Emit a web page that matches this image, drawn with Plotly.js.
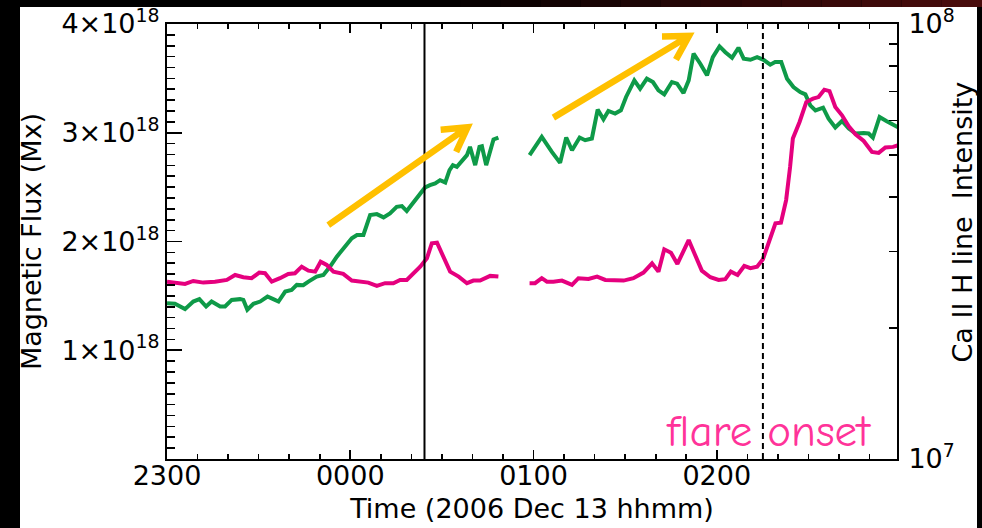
<!DOCTYPE html>
<html>
<head>
<meta charset="utf-8">
<script src="https://cdn.plot.ly/plotly-3.0.1.min.js"></script>
<style>html,body{margin:0;padding:0;background:#000;}</style>
</head>
<body>
<div id="chart" style="width:982px;height:528px;"></div>
<script>
// ---- Data (time in minutes after 2300 UT, 2006 Dec 12/13) ----
// Magnetic flux (units of 1e18 Mx); null marks the data gap
const fluxTime = [0,2.6,5.9,8.6,10.6,12.8,14.6,17.4,19.0,21.2,23.9,25.0,26.3,28.3,30.5,32.9,34.8,36.5,38.7,40.8,42.5,44.6,46.3,49.0,51.2,53.4,55.6,58.3,60.5,62.2,64.3,66.5,68.7,70.9,73.0,75.2,76.9,78.5,80.7,82.9,84.5,86.1,87.8,89.4,91.1,92.5,93.6,94.9,96.5,98.2,99.2,100.9,102.3,103.1,104.5,105.8,106.9,108.5,
  113,
  118.7,122.7,126.0,128.7,130.7,132.6,135.1,136.9,139.1,141.0,142.9,144.5,146.7,148.6,150.3,153.0,154.9,157.1,159.1,160.9,162.8,165.3,167.0,169.1,170.8,172.4,174.6,176.8,178.7,180.9,182.8,185.0,187.1,188.8,191.0,193.2,195.3,197.5,199.1,201.1,203.0,205.1,207.3,209.0,210.6,212.3,214.8,216.6,218.8,221.0,223.2,225.4,228.1,229.7,231.1,233.3,235.5,237.7,239.5];
const fluxValue = [1.433,1.427,1.378,1.448,1.470,1.402,1.448,1.402,1.402,1.463,1.470,1.463,1.372,1.427,1.448,1.494,1.470,1.448,1.540,1.555,1.601,1.598,1.631,1.677,1.693,1.769,1.861,1.952,2.029,2.060,2.060,2.243,2.252,2.222,2.259,2.319,2.326,2.280,2.365,2.442,2.497,2.518,2.534,2.564,2.543,2.656,2.702,2.686,2.732,2.794,2.870,2.702,2.870,2.876,2.702,2.839,2.938,2.956,
  null,
  2.794,2.962,2.824,2.723,2.956,2.839,2.956,2.931,2.947,3.213,3.124,3.200,3.176,3.206,3.329,3.482,3.405,3.497,3.466,3.390,3.353,3.466,3.451,3.365,3.482,3.727,3.635,3.528,3.695,3.794,3.741,3.690,3.782,3.681,3.671,3.695,3.671,3.626,3.650,3.650,3.497,3.420,3.374,3.353,3.252,3.206,3.231,3.130,3.048,3.108,3.038,2.993,2.998,2.993,2.956,3.145,3.108,3.069,3.048];

// Ca II H line intensity (units of 1e7); null marks the data gap
const caTime = [0,3.2,5.9,8.6,11.9,15.7,19.6,22.3,25.0,27.7,30.2,32.1,34.3,37.0,39.7,41.9,44.1,46.3,48.5,50.3,52.3,54.5,57.7,60.5,63.2,65.9,68.7,71.4,74.1,76.3,78.5,80.7,82.9,85.1,86.7,88.4,90.5,92.7,95.5,98.2,100.3,102.5,105.8,108.5,
  113,
  118.7,120.5,122.7,124.4,126.5,129.3,132.6,134.7,138.0,140.8,143.5,146.2,149.5,152.7,156.0,158.8,160.9,162.8,165.0,167.1,170.8,172.9,175.1,177.9,180.6,182.8,184.6,186.8,189.0,191.0,193.2,195.1,197.0,199.2,201.0,202.7,204.0,204.9,207.1,209.3,211.5,213.3,215.2,216.9,218.8,221.0,223.2,225.4,228.1,230.8,233.0,235.2,237.7,239.5];
const caValue = [2.557,2.544,2.527,2.566,2.544,2.557,2.580,2.649,2.617,2.604,2.682,2.673,2.557,2.604,2.664,2.673,2.768,2.710,2.696,2.842,2.793,2.696,2.664,2.571,2.557,2.544,2.500,2.536,2.536,2.580,2.580,2.673,2.768,2.894,3.132,3.142,2.918,2.696,2.626,2.536,2.571,2.571,2.636,2.626,
  null,
  2.536,2.536,2.604,2.557,2.557,2.571,2.513,2.604,2.594,2.626,2.580,2.580,2.571,2.604,2.682,2.818,2.696,3.034,2.980,2.808,3.187,2.944,2.710,2.617,2.580,2.590,2.696,2.649,2.778,2.745,2.768,2.879,3.132,3.481,3.492,3.937,4.694,5.455,5.955,6.615,6.736,6.793,7.064,7.012,6.444,6.167,5.819,5.579,5.385,5.082,5.055,5.201,5.218,5.265];

// Tick labels
const timeTickVals = [0, 60, 120, 180];
const timeTickText = ['2300', '0000', '0100', '0200'];
const fluxTickVals = [1e18, 2e18, 3e18, 4e18];
const fluxTickText = ['1×10<sup>18</sup>', '2×10<sup>18</sup>', '3×10<sup>18</sup>', '4×10<sup>18</sup>'];
const caTickVals = [1e7, 1e8];
const caTickText = ['10<sup>7</sup>', '10<sup>8</sup>'];
const caMinorVals = [2e7, 3e7, 4e7, 5e7, 6e7, 7e7, 8e7, 9e7];

// Event markers (minutes after 2300) and trend arrows [tailT, tailFlux, tipT, tipFlux] (flux in 1e18)
const eventTimes = [84.3, 195.1];
const arrows = [[52.8, 2.151, 98.4, 3.050], [126.5, 3.139, 170.9, 3.890]];

// ---- Layout geometry ----
const W = 982, H = 528, ML = 167, MR = 85, MT = 24, MB = 69;
const PW = W - ML - MR, PH = H - MT - MB;
const XR = [0, 239], YR = [0, 4e18];
const px2x = p => (p - ML) / PW;
const px2y = p => (H - MB - p) / PH;

const GREEN = '#0E9A48', MAGENTA = '#E5007E', ORANGE = '#FFC000', PINK = '#FF3399';
const FONT = 'DejaVu Sans, Verdana, sans-serif';

const traces = [
  {
    x: fluxTime, y: fluxValue.map(v => v == null ? null : v * 1e18),
    type: 'scatter', mode: 'lines', yaxis: 'y', connectgaps: false,
    line: {color: GREEN, width: 4}, name: 'Magnetic Flux', hoverinfo: 'skip'
  },
  {
    x: caTime, y: caValue.map(v => v == null ? null : v * 1e7),
    type: 'scatter', mode: 'lines', yaxis: 'y2', connectgaps: false,
    line: {color: MAGENTA, width: 4}, name: 'Ca II H', hoverinfo: 'skip'
  }
];

const shapes = [];
// white panel
shapes.push({type: 'rect', xref: 'paper', yref: 'paper', layer: 'below',
  x0: px2x(20), x1: px2x(977), y0: px2y(528), y1: px2y(7),
  fillcolor: '#ffffff', line: {width: 0}});
// dark red gradient along the top edge
const nStrips = 14;
for (let i = 0; i < nStrips; i++) {
  const f = (i + 0.5) / nStrips;
  const r = Math.round(75 * f), g = Math.round(12 * f), b = Math.round(12 * f);
  shapes.push({type: 'rect', xref: 'paper', yref: 'paper', layer: 'below',
    x0: px2x(420 + i * (562 / nStrips)), x1: px2x(420 + (i + 1) * (562 / nStrips)),
    y0: px2y(7), y1: px2y(0), fillcolor: `rgb(${r},${g},${b})`, line: {width: 0}});
}
// event lines
shapes.push({type: 'line', xref: 'x', yref: 'paper', x0: eventTimes[0], x1: eventTimes[0], y0: 0, y1: 1,
  line: {color: '#000', width: 2}});
shapes.push({type: 'line', xref: 'x', yref: 'paper', x0: eventTimes[1], x1: eventTimes[1], y0: 0, y1: 1,
  line: {color: '#000', width: 2, dash: '6px,4px'}});

// trend arrows: shaft + open chevron head, built in pixel space from the data ends
const d2px = (t, v) => [ML + (t - XR[0]) / (XR[1] - XR[0]) * PW, H - MB - (v - YR[0]) / (YR[1] - YR[0]) * PH];
const px2d = (px, py) => [XR[0] + (px - ML) / PW * (XR[1] - XR[0]), YR[0] + (H - MB - py) / PH * (YR[1] - YR[0])];
arrows.forEach(a => {
  const [tx, ty] = d2px(a[0], a[1] * 1e18);
  const [hx, hy] = d2px(a[2], a[3] * 1e18);
  const len = Math.hypot(hx - tx, hy - ty);
  const ux = (hx - tx) / len, uy = (hy - ty) / len;
  const armLen = 27, ang = 30 * Math.PI / 180;
  const arm = s => {
    const c = Math.cos(s * ang), sn = Math.sin(s * ang);
    const rx = ux * c - uy * sn, ry = ux * sn + uy * c;
    return px2d(hx - rx * armLen, hy - ry * armLen);
  };
  const T = px2d(tx, ty), Hd = px2d(hx - ux * 2, hy - uy * 2), A1 = arm(1), A2 = arm(-1), P = px2d(hx, hy);
  shapes.push({type: 'path', xref: 'x', yref: 'y',
    path: `M${T[0]},${T[1]} L${Hd[0]},${Hd[1]} M${A1[0]},${A1[1]} L${P[0]},${P[1]} L${A2[0]},${A2[1]}`,
    line: {color: ORANGE, width: 6.5}});
});

const annotations = [{
  xref: 'paper', yref: 'paper', x: px2x(768.5), y: px2y(431),
  xanchor: 'center', yanchor: 'middle', showarrow: false,
  text: 'flare onset',
  font: {family: '"Comic Sans MS", "Comic Neue", "DejaVu Sans", sans-serif', size: 45, color: PINK}
}, {
  xref: 'paper', yref: 'paper', x: px2x(962), y: px2y(221.5),
  xanchor: 'center', yanchor: 'middle', showarrow: false, textangle: -90,
  text: 'Ca II H line\u00a0 Intensity',
  font: {family: FONT, size: 27, color: '#000'}
}];

const layout = {
  width: W, height: H,
  margin: {l: ML, r: MR, t: MT, b: MB, pad: 0},
  paper_bgcolor: '#000000', plot_bgcolor: '#ffffff',
  showlegend: false,
  font: {family: FONT, size: 27, color: '#000'},
  xaxis: {
    range: XR, tickmode: 'array', tickvals: timeTickVals, ticktext: timeTickText,
    ticks: 'inside', ticklen: 9, tickwidth: 1.6, tickcolor: '#000',
    showline: true, linewidth: 2, linecolor: '#000', mirror: 'ticks',
    showgrid: false, zeroline: false,
    minor: {tickmode: 'linear', tick0: 0, dtick: 10, ticks: 'inside', ticklen: 5, tickwidth: 1.6, tickcolor: '#000', showgrid: false},
    tickfont: {family: FONT, size: 27, color: '#000'},
    ticklabelstandoff: -8,
    title: {text: 'Time (2006 Dec 13 hhmm)', font: {family: FONT, size: 27, color: '#000'}, standoff: 9}
  },
  yaxis: {
    range: YR, tickmode: 'array', tickvals: fluxTickVals, ticktext: fluxTickText,
    ticks: 'inside', ticklen: 15, tickwidth: 1.6, tickcolor: '#000',
    showline: true, linewidth: 2, linecolor: '#000', mirror: false,
    showgrid: false, zeroline: false,
    minor: {tickmode: 'linear', tick0: 0, dtick: 1e17, ticks: 'inside', ticklen: 8, tickwidth: 1.6, tickcolor: '#000', showgrid: false},
    tickfont: {family: FONT, size: 27, color: '#000'},
    title: {text: 'Magnetic Flux (Mx)', font: {family: FONT, size: 27, color: '#000'}, standoff: 12}
  },
  yaxis2: {
    type: 'log', range: [7, 8], overlaying: 'y', side: 'right',
    tickmode: 'array', tickvals: caTickVals, ticktext: caTickText,
    ticks: 'inside', ticklen: 8, tickwidth: 1.6, tickcolor: '#000',
    showline: true, linewidth: 2, linecolor: '#000',
    showgrid: false, zeroline: false,
    minor: {tickmode: 'array', tickvals: caMinorVals, ticks: 'inside', ticklen: 8, tickwidth: 1.6, tickcolor: '#000', showgrid: false},
    tickfont: {family: FONT, size: 27, color: '#000'},
    ticklabelstandoff: 4
  },
  shapes: shapes,
  annotations: annotations
};

Plotly.newPlot('chart', traces, layout, {staticPlot: true, displayModeBar: false});
</script>
</body>
</html>
